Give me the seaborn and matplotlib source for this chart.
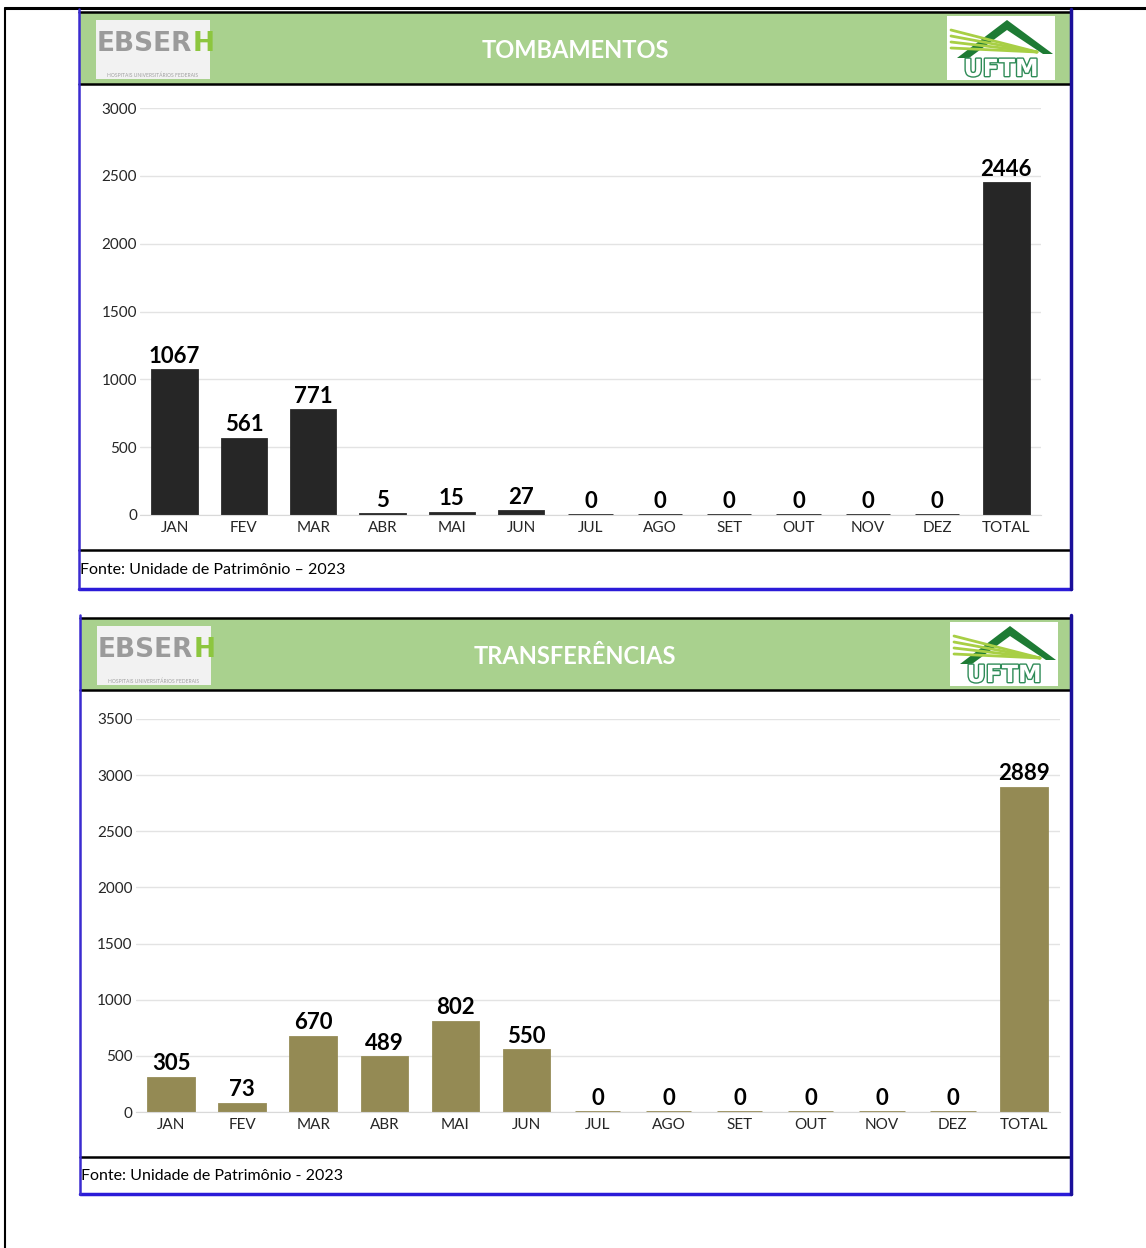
import pandas as pd
import matplotlib.pyplot as plt
import matplotlib.patheffects as pe
import seaborn as sns
from matplotlib.patches import Rectangle, Polygon
from matplotlib.lines import Line2D

# Data
meses = ['JAN', 'FEV', 'MAR', 'ABR', 'MAI', 'JUN', 'JUL', 'AGO', 'SET', 'OUT', 'NOV', 'DEZ', 'TOTAL']
tombamentos = [1067, 561, 771, 5, 15, 27, 0, 0, 0, 0, 0, 0, 2446]
transferencias = [305, 73, 670, 489, 802, 550, 0, 0, 0, 0, 0, 0, 2889]
titulos = ['TOMBAMENTOS', 'TRANSFERÊNCIAS']
fontes = ['Fonte: Unidade de Patrimônio – 2023', 'Fonte: Unidade de Patrimônio - 2023']

sns.set_style('white')
plt.rcParams['font.family'] = ['Lato', 'DejaVu Sans']

W, H = 1146, 1248
fig = plt.figure(figsize=(W / 100, H / 100), dpi=100)
renderer = fig.canvas.get_renderer()


def fx(x):
    return x / W


def fy(y):
    return 1 - y / H


def box(x0, y0, x1, y1, **kw):
    fig.add_artist(Rectangle((fx(x0), fy(y1)), fx(x1) - fx(x0), fy(y0) - fy(y1),
                             transform=fig.transFigure, **kw))


def line(xs, ys, **kw):
    fig.add_artist(Line2D([fx(x) for x in xs], [fy(y) for y in ys],
                          transform=fig.transFigure, **kw))


# page border
line([5, 1146], [8, 8], color='black', lw=2.2)
line([5, 5], [8, 1248], color='black', lw=1.5)


def logos(top, bottom, x_eb, x_uf):
    # EBSERH logo (approximation)
    box(x_eb, top + 8, x_eb + 114, bottom - 5, facecolor='#F2F2F2', edgecolor='none')
    ymid = (top + bottom) / 2 - 4
    t = fig.text(fx(x_eb + 1), fy(ymid), 'EBSER', color='#9B9B9B', fontsize=19, fontweight='bold',
                 va='center', ha='left', family='DejaVu Sans')
    bb = t.get_window_extent(renderer)
    fig.text(bb.x1 / W / 1.0, fy(ymid), 'H', color='#8DC63F', fontsize=19, fontweight='bold',
             va='center', ha='left', family='DejaVu Sans')
    fig.text(fx(x_eb + 57), fy(bottom - 9), 'HOSPITAIS UNIVERSITÁRIOS FEDERAIS', color='#A0A0A0',
             fontsize=3.6, va='center', ha='center')
    # UFTM logo (approximation)
    box(x_uf, top + 4, x_uf + 108, bottom - 4, facecolor='white', edgecolor='none')
    t = top + 6
    roof = [(x_uf + 10, t + 40), (x_uf + 60, t + 2), (x_uf + 106, t + 36), (x_uf + 96, t + 36),
            (x_uf + 60, t + 12), (x_uf + 22, t + 40)]
    fig.add_artist(Polygon([(fx(a), fy(b)) for a, b in roof], closed=True, transform=fig.transFigure,
                           facecolor='#1E7B34', edgecolor='none'))
    for k in range(4):
        line([x_uf + 4, x_uf + 90], [t + 12 + k * 6, t + 34], color='#A8CF45', lw=2)
    fig.text(fx(x_uf + 54), fy(bottom - 15), 'UFTM', color='white', fontsize=17, fontweight='bold',
             ha='center', va='center', family='DejaVu Sans',
             path_effects=[pe.withStroke(linewidth=2, foreground='#2E8B57')])


def panel(top, head_bot, sep, bottom, left, right, titulo, fonte, x_eb, x_uf):
    box(left + 1, top, right - 1, head_bot, facecolor='#A9D18E', edgecolor='none')
    line([left, right], [top, top], color='black', lw=1.8)
    line([left, right], [head_bot, head_bot], color='black', lw=1.8)
    line([left, right], [sep, sep], color='black', lw=1.8)
    line([left, right], [bottom, bottom], color='#2B1BD8', lw=2.5)
    line([left, left], [top - 3, bottom], color='#3A2BD0', lw=1.8)
    line([right, right], [top - 3, bottom], color='#1A0F9A', lw=2.5)
    fig.text(fx(575), fy((top + head_bot) / 2 + 2), titulo, color='white', fontsize=17, fontweight='bold',
             ha='center', va='center')
    fig.text(fx(left + 1), fy((sep + bottom) / 2), fonte, color='black', fontsize=11.5,
             ha='left', va='center')
    logos(top, head_bot, x_eb, x_uf)


def grafico(rect, valores, cor, ymax, step):
    x0, y0, x1, y1 = rect
    ax = fig.add_axes([fx(x0), fy(y1), fx(x1) - fx(x0), fy(y0) - fy(y1)])
    df = pd.DataFrame({'mes': meses, 'valor': valores})
    sns.barplot(data=df, x='mes', y='valor', order=meses, color=cor, saturation=1,
                width=0.64, edgecolor=cor, linewidth=2, ax=ax)
    ax.set_xlim(-0.5, len(meses) - 0.5)
    ax.set_ylim(0, ymax)
    ax.set_yticks(range(0, ymax + 1, step))
    ax.yaxis.grid(True, color='#E3E3E3', lw=1)
    ax.set_axisbelow(True)
    for s in ['top', 'right', 'left']:
        ax.spines[s].set_visible(False)
    ax.spines['bottom'].set_color('#D9D9D9')
    ax.set_xlabel('')
    ax.set_ylabel('')
    ax.tick_params(axis='x', length=0, pad=4.5, labelsize=11, colors='#262626')
    ax.tick_params(axis='y', length=0, pad=2, labelsize=11, colors='#262626')
    for i, v in enumerate(valores):
        ax.annotate(str(v), (i, v), xytext=(0, 2.5), textcoords='offset points', ha='center',
                    va='bottom', fontsize=16, fontweight='bold', color='black')
    ax.patch.set_alpha(0)
    return ax


panel(12, 84, 550, 589, 79, 1071, titulos[0], fontes[0], 96, 947)
panel(618, 690, 1157, 1194, 80, 1071, titulos[1], fontes[1], 97, 950)

grafico((140, 108, 1041, 515), tombamentos, '#262626', 3000, 500)
grafico((135.5, 719, 1059.5, 1112), transferencias, '#948A54', 3500, 500)

plt.savefig('out.png', dpi=100)
